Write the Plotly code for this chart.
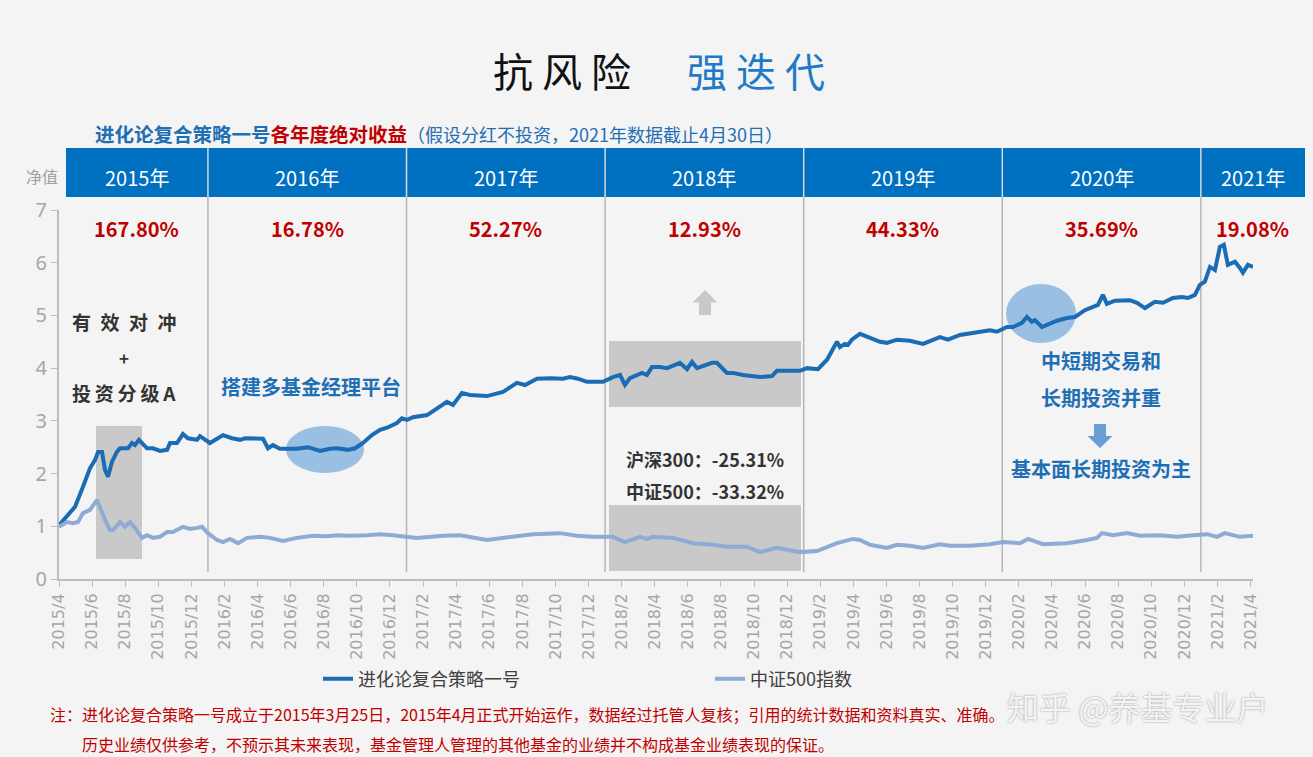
import plotly.graph_objects as go

# ---------------- data ----------------
# x = months elapsed since 2015/4 (start of operation)
fund_month = [0, 0.48, 0.97, 1.45, 1.87, 2.18, 2.36, 2.60, 2.78, 2.96, 3.20, 3.50, 3.69, 4.17, 4.41,
              4.59, 4.83, 5.32, 5.68, 6.10, 6.53, 6.71, 7.13, 7.49, 7.79, 8.34, 8.52, 9.12, 9.55,
              9.91, 10.45, 10.94, 11.24, 12.33, 12.63, 12.93, 13.35, 14.38, 15.05, 15.77, 16.37,
              16.80, 17.46, 17.89, 18.37, 18.91, 19.40, 19.82, 20.42, 20.72, 21.03, 21.39, 22.24,
              22.84, 23.44, 23.81, 24.35, 24.83, 25.86, 26.83, 27.67, 28.16, 28.88, 29.67, 30.45,
              30.88, 31.36, 31.90, 32.87, 33.47, 33.90, 34.20, 34.50, 35.23, 35.53, 35.83, 36.31,
              36.74, 37.52, 37.95, 38.25, 38.55, 39.46, 39.76, 40.36, 40.72, 41.33, 42.36, 43.08,
              43.38, 44.77, 45.20, 45.86, 46.41, 46.77, 47.01, 47.19, 47.49, 47.67, 47.91, 48.40,
              49.00, 49.61, 50.03, 50.63, 51.42, 52.21, 53.23, 53.72, 54.44, 55.47, 56.25, 56.68,
              57.28, 57.64, 58.19, 58.49, 58.79, 58.97, 59.40, 59.70, 60.30, 60.91, 61.39, 61.99,
              62.48, 62.78, 63.08, 63.32, 63.81, 64.71, 65.14, 65.62, 66.22, 66.71, 67.31, 67.85,
              68.22, 68.64, 68.94, 69.24, 69.55, 69.85, 70.15, 70.39, 70.63, 71.06, 71.36, 71.54,
              71.84, 72.15]
fund_nav = [1.02, 1.18, 1.37, 1.75, 2.10, 2.26, 2.41, 2.41, 2.07, 1.94, 2.22, 2.41, 2.48, 2.48, 2.58,
            2.54, 2.64, 2.48, 2.48, 2.43, 2.45, 2.58, 2.58, 2.75, 2.67, 2.64, 2.71, 2.58, 2.67,
            2.73, 2.67, 2.64, 2.67, 2.66, 2.48, 2.54, 2.47, 2.47, 2.50, 2.43, 2.47,
            2.48, 2.45, 2.48, 2.58, 2.73, 2.83, 2.87, 2.96, 3.05, 3.02, 3.07, 3.11,
            3.24, 3.36, 3.30, 3.53, 3.49, 3.47, 3.55, 3.72, 3.68, 3.80, 3.81, 3.80,
            3.83, 3.80, 3.74, 3.74, 3.83, 3.87, 3.68, 3.81, 3.91, 3.87, 4.02, 4.02,
            4.00, 4.10, 3.98, 4.12, 4.00, 4.10, 4.10, 3.91, 3.91, 3.87, 3.83, 3.85,
            3.95, 3.95, 4.00, 3.98, 4.16, 4.35, 4.50, 4.40, 4.46, 4.44, 4.54, 4.65,
            4.57, 4.50, 4.48, 4.54, 4.52, 4.46, 4.59, 4.54, 4.63, 4.69, 4.72, 4.69,
            4.78, 4.78, 4.86, 4.97, 4.88, 4.91, 4.78, 4.82, 4.90, 4.95, 4.97, 5.10,
            5.16, 5.20, 5.39, 5.22, 5.28, 5.29, 5.24, 5.14, 5.26, 5.24, 5.33, 5.35,
            5.33, 5.39, 5.58, 5.64, 5.92, 5.86, 6.30, 6.34, 5.96, 6.02, 5.90, 5.81,
            5.96, 5.92]

csi_month = [0, 0.48, 0.85, 1.15, 1.45, 1.87, 2.30, 2.48, 2.78, 3.08, 3.26, 3.69, 3.99, 4.29, 4.59,
             5.02, 5.32, 5.68, 6.10, 6.53, 6.89, 7.49, 7.92, 8.34, 8.64, 9.00, 9.55, 9.91, 10.33,
             10.82, 11.36, 12.15, 12.75, 13.53, 14.38, 15.35, 16.19, 16.80, 17.58, 18.61, 19.40,
             20.18, 21.63, 23.20, 24.23, 25.86, 27.25, 28.64, 30.27, 31.30, 32.27, 33.47, 34.20,
             35.11, 35.53, 35.89, 37.10, 38.31, 39.52, 40.36, 41.57, 42.36, 43.38, 44.17, 44.77,
             45.80, 47.01, 47.98, 48.40, 49.00, 50.03, 50.63, 51.42, 52.21, 53.23, 53.84, 55.05,
             56.25, 57.04, 58.07, 58.55, 59.46, 60.91, 62.12, 62.72, 63.02, 63.69, 64.53, 65.32,
             66.53, 67.55, 68.52, 69.37, 69.97, 70.45, 71.36, 72.15]
csi_nav = [0.99, 1.08, 1.06, 1.08, 1.25, 1.31, 1.50, 1.35, 1.12, 0.93, 0.93, 1.08, 0.99, 1.08, 0.97,
           0.78, 0.83, 0.78, 0.80, 0.89, 0.89, 0.99, 0.95, 0.97, 0.99, 0.87, 0.74, 0.70, 0.76,
           0.68, 0.78, 0.80, 0.78, 0.72, 0.78, 0.82, 0.81, 0.83, 0.82, 0.83, 0.85,
           0.83, 0.78, 0.82, 0.83, 0.74, 0.80, 0.85, 0.87, 0.82, 0.80, 0.80, 0.70,
           0.80, 0.76, 0.80, 0.78, 0.68, 0.65, 0.61, 0.61, 0.51, 0.59, 0.55, 0.51,
           0.53, 0.68, 0.76, 0.74, 0.65, 0.59, 0.65, 0.63, 0.59, 0.66, 0.63, 0.63,
           0.66, 0.70, 0.68, 0.76, 0.66, 0.68, 0.74, 0.78, 0.87, 0.83, 0.87, 0.82,
           0.83, 0.80, 0.83, 0.85, 0.80, 0.87, 0.80, 0.82]

tick_months = [0, 2, 4, 6, 8, 10, 12, 14, 16, 18, 20, 22, 24, 26, 28, 30, 32, 34, 36,
               38, 40, 42, 44, 46, 48, 50, 52, 54, 56, 58, 60, 62, 64, 66, 68, 70, 72]
tick_text = ["2015/4", "2015/6", "2015/8", "2015/10", "2015/12",
             "2016/2", "2016/4", "2016/6", "2016/8", "2016/10", "2016/12",
             "2017/2", "2017/4", "2017/6", "2017/8", "2017/10", "2017/12",
             "2018/2", "2018/4", "2018/6", "2018/8", "2018/10", "2018/12",
             "2019/2", "2019/4", "2019/6", "2019/8", "2019/10", "2019/12",
             "2020/2", "2020/4", "2020/6", "2020/8", "2020/10", "2020/12",
             "2021/2", "2021/4"]

years = ["2015年", "2016年", "2017年", "2018年", "2019年", "2020年", "2021年"]
year_returns = ["167.80%", "16.78%", "52.27%", "12.93%", "44.33%", "35.69%", "19.08%"]
year_start_months = [9, 21, 33, 45, 57, 69]   # January of 2016 ... 2021

fund_name = "进化论复合策略一号"
index_name = "中证500指数"
hs300_text = "沪深300：-25.31%"
zz500_text = "中证500：-33.32%"

# ---------------- geometry helpers ----------------
W, H = 1313, 757
L, R, T, B = 59, 1253, 210, 579
XMAX = 72.15


def px(x):
    return (x - L) / (R - L)


def py(y):
    return (B - y) / (B - T)


def mp(m):
    return m / XMAX


CJK = "Noto Sans CJK SC"
BLUE = "#1a6cb5"
LIGHT = "#8dabd5"
RED = "#c00000"
HEAD = "#0070c0"
TXTBLUE = "#1f6fb5"
BG = "#f4f4f4"
DARK = "#333333"

fig = go.Figure()
fig.add_trace(go.Scatter(x=fund_month, y=fund_nav, mode="lines", name=fund_name,
                         line=dict(color=BLUE, width=4)))
fig.add_trace(go.Scatter(x=csi_month, y=csi_nav, mode="lines", name=index_name,
                         line=dict(color=LIGHT, width=4)))

shapes = []
annotations = []


def note(x, y, text, size, color, xanchor="center", **kw):
    d = dict(x=px(x), y=py(y), xref="paper", yref="paper", text=text, showarrow=False,
             xanchor=xanchor, yanchor="middle", font=dict(family=CJK, size=size, color=color))
    d.update(kw)
    annotations.append(d)
    return d


# header bar
shapes.append(dict(type="rect", xref="paper", yref="paper", x0=px(66), x1=px(1305),
                   y0=py(197), y1=py(148), fillcolor=HEAD, line_width=0, layer="above"))
cell_edges = [px(66)] + [mp(m) for m in year_start_months] + [px(1305)]
for m in year_start_months:
    shapes.append(dict(type="line", xref="paper", yref="paper", x0=mp(m), x1=mp(m),
                       y0=py(197), y1=py(148), line=dict(color="#d9d9d9", width=1.5), layer="above"))
    shapes.append(dict(type="line", xref="paper", yref="paper", x0=mp(m), x1=mp(m),
                       y0=py(572), y1=py(197), line=dict(color="#b5b5b5", width=1.5), layer="below"))
for i, (yr, ret) in enumerate(zip(years, year_returns)):
    cx = (cell_edges[i] + cell_edges[i + 1]) / 2
    annotations.append(dict(x=cx, y=py(177), xref="paper", yref="paper", text=yr, showarrow=False,
                            xanchor="center", yanchor="middle",
                            font=dict(family=CJK, size=20, color="white")))
    annotations.append(dict(x=cx, y=py(228), xref="paper", yref="paper", text=f"<b>{ret}</b>",
                            showarrow=False, xanchor="center", yanchor="middle",
                            font=dict(family=CJK, size=20, color=RED)))

# gray highlight boxes
for (x0, x1, y0, y1) in [(96, 142, 559, 426), (609, 801, 407, 341), (609, 801, 571, 505)]:
    shapes.append(dict(type="rect", xref="paper", yref="paper", x0=px(x0), x1=px(x1),
                       y0=py(y0), y1=py(y1), fillcolor="rgba(190,190,190,0.8)", line_width=0,
                       layer="below"))
# ellipses
for (x0, x1, y0, y1) in [(286, 364, 473, 426), (1006, 1076, 343, 284)]:
    shapes.append(dict(type="circle", xref="paper", yref="paper", x0=px(x0), x1=px(x1),
                       y0=py(y0), y1=py(y1), fillcolor="rgba(91,155,213,0.6)", line_width=0,
                       layer="below"))


def arrow_path(cx, top, bottom, head_w, stem_w, up=True):
    hy = top + (bottom - top) * 0.5
    if up:
        pts = [(cx, top), (cx + head_w / 2, hy), (cx + stem_w / 2, hy), (cx + stem_w / 2, bottom),
               (cx - stem_w / 2, bottom), (cx - stem_w / 2, hy), (cx - head_w / 2, hy)]
    else:
        pts = [(cx, bottom), (cx + head_w / 2, hy), (cx + stem_w / 2, hy), (cx + stem_w / 2, top),
               (cx - stem_w / 2, top), (cx - stem_w / 2, hy), (cx - head_w / 2, hy)]
    return "M " + " L ".join(f"{px(a):.5f},{py(b):.5f}" for a, b in pts) + " Z"


shapes.append(dict(type="path", xref="paper", yref="paper", path=arrow_path(705, 290, 315, 25, 12, True),
                   fillcolor="#c8c8c8", line_width=0))
shapes.append(dict(type="path", xref="paper", yref="paper", path=arrow_path(1100, 424, 448, 25, 12, False),
                   fillcolor="#6a9fd6", line_width=0))

# titles
note(562, 70, "抗 风 险", 40, "#111111")
note(756, 70, "强 迭 代", 40, "#1f7ac8")
note(93, 133, (f"<b><span style='color:{TXTBLUE}'>进化论复合策略一号</span>"
               f"<span style='color:{RED}'>各年度绝对收益</span></b>"
               f"<span style='color:{TXTBLUE};font-size:18px'>（假设分红不投资，2021年数据截止4月30日）</span>"),
     19.5, TXTBLUE, xanchor="left")
note(42, 176, "净值", 16, "#a0a0a0")

# callouts
note(124, 321, "<b>有\u2002效\u2002对\u2002冲</b>", 19, DARK)
note(124, 357, "<b>+</b>", 17, DARK)
note(124, 392, "<b>投\u2009资\u2009分\u2009级\u2009A</b>", 19, DARK)
note(311, 386, "<b>搭建多基金经理平台</b>", 20, TXTBLUE)
note(705, 459, f"<b>{hs300_text}</b>", 18, DARK)
note(705, 491, f"<b>{zz500_text}</b>", 18, DARK)
note(1101, 360, "<b>中短期交易和</b>", 20, TXTBLUE)
note(1101, 397, "<b>长期投资并重</b>", 20, TXTBLUE)
note(1101, 468, "<b>基本面长期投资为主</b>", 20, TXTBLUE)

# footnote
note(48, 714, "注：进化论复合策略一号成立于2015年3月25日，2015年4月正式开始运作，数据经过托管人复核；引用的统计数据和资料真实、准确。",
     16, RED, xanchor="left")
note(80, 744, "历史业绩仅供参考，不预示其未来表现，基金管理人管理的其他基金的业绩并不构成基金业绩表现的保证。",
     16, RED, xanchor="left")
# watermark
wm = note(1137, 706, "知乎 @养基专业户", 32, "rgba(255,255,255,0.9)")
wm["font"]["shadow"] = "0px 0px 2px rgba(80,80,80,0.7)"

fig.update_layout(
    width=W, height=H,
    margin=dict(l=L, r=W - R, t=T, b=H - B, pad=0),
    paper_bgcolor=BG, plot_bgcolor=BG,
    shapes=shapes, annotations=annotations,
    showlegend=True,
    legend=dict(orientation="h", x=px(318), xanchor="left", y=py(679), yanchor="middle",
                font=dict(family=CJK, size=18, color="#404040"),
                entrywidth=347, entrywidthmode="pixels", bgcolor="rgba(0,0,0,0)"),
    xaxis=dict(range=[0, XMAX], tickmode="array", tickvals=tick_months, ticktext=tick_text,
               tickangle=-90, ticks="outside", ticklen=6, tickcolor="#bdbdbd",
               showline=True, linecolor="#bdbdbd", linewidth=2, showgrid=False, zeroline=False,
               tickfont=dict(family="DejaVu Sans", size=16, color="#a6a6a6")),
    yaxis=dict(range=[0, 7], dtick=1, ticks="outside", ticklen=6, tickcolor="#bdbdbd",
               showline=True, linecolor="#bdbdbd", linewidth=2, showgrid=False, zeroline=False,
               tickfont=dict(family="Noto Sans", size=20, color="#a6a6a6")),
    hovermode=False,
)

fig.write_html("out.html", config={"displayModeBar": False},
               post_script="document.body.style.margin='0';")
